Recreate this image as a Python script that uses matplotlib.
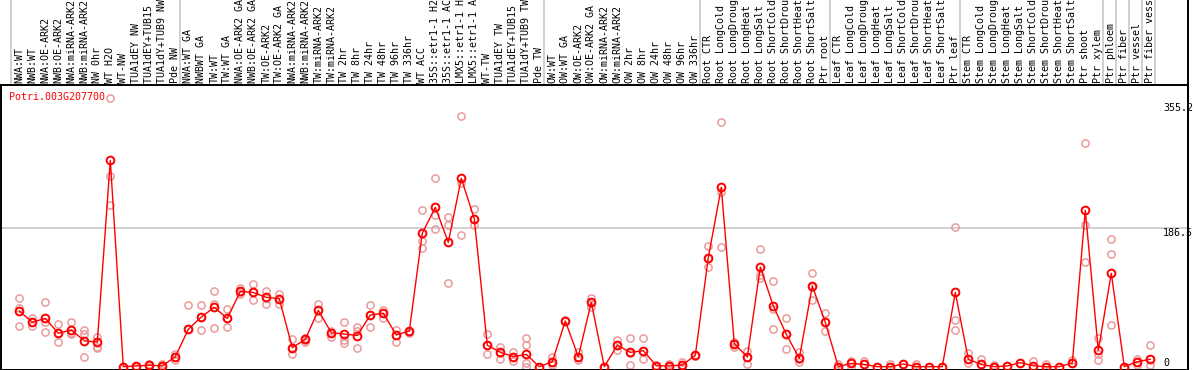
import matplotlib
matplotlib.use('Agg')
import matplotlib.pyplot as plt
from matplotlib import transforms
from matplotlib.lines import Line2D

# --- colours / fonts ---
c_red   = '#FF0000'
c_rep   = '#EA9A9A'
c_grid  = '#C4C4C4'
c_black = '#000000'
mono = 'DejaVu Sans Mono'
fs = 7.2

gene = 'Potri.003G207700'

samples = [
    'NWA:WT', 'NWB:WT', 'NWA:OE-ARK2', 'NWB:OE-ARK2', 'NWA:miRNA-ARK2', 'NWB:miRNA-ARK2',
    'NW 0hr', 'WT H2O', 'WT-NW', 'TUA1dEY NW', 'TUA1dEY+TUB15 NW', 'TUA1dY+TUB9 NW', 'Pde NW',
    'NWA:WT GA', 'NWBWT GA', 'TW:WT', 'TW:WT GA', 'NWA:OE-ARK2 GA', 'NWB:OE-ARK2 GA',
    'TW:OE-ARK2', 'TW:OE-ARK2 GA', 'NWA:miRNA-ARK2', 'NWB:miRNA-ARK2', 'TW:miRNA-ARK2',
    'TW:miRNA-ARK2', 'TW 2hr', 'TW 8hr', 'TW 24hr', 'TW 48hr', 'TW 96hr', 'TW 336hr',
    'WT ACC', '35S::etr1-1 H2O', '35S::etr1-1 ACC', 'LMX5::etr1-1 H2O', 'LMX5::etr1-1 ACC',
    'WT-TW', 'TUA1dEY TW', 'TUA1dEY+TUB15 TW', 'TUA1dY+TUB9 TW', 'Pde TW',
    'OW:WT', 'OW:WT GA', 'OW:OE-ARK2', 'OW:OE-ARK2 GA', 'OW:miRNA-ARK2', 'OW:miRNA-ARK2',
    'OW 2hr', 'OW 8hr', 'OW 24hr', 'OW 48hr', 'OW 96hr', 'OW 336hr',
    'Root CTR', 'Root LongCold', 'Root LongDrought', 'Root LongHeat', 'Root LongSalt',
    'Root ShortCold', 'Root ShortDrought', 'Root ShortHeat', 'Root ShortSalt', 'Ptr root',
    'Leaf CTR', 'Leaf LongCold', 'Leaf LongDrought', 'Leaf LongHeat', 'Leaf LongSalt',
    'Leaf ShortCold', 'Leaf ShortDrought', 'Leaf ShortHeat', 'Leaf ShortSalt', 'Ptr leaf',
    'Stem CTR', 'Stem LongCold', 'Stem LongDrought', 'Stem LongHeat', 'Stem LongSalt',
    'Stem ShortCold', 'Stem ShortDrought', 'Stem ShortHeat', 'Stem ShortSalt',
    'Ptr shoot', 'Ptr xylem', 'Ptr phloem', 'Ptr fiber', 'Ptr vessel', 'Ptr fiber vessel',
]

means = [
    75, 60, 65, 45, 49.4, 35, 33, 278, 0, 1, 2, 1, 13.5,
    50.3, 67, 80, 65, 101.5, 100, 93.4, 91.6, 25.6, 36.8, 76, 45.8, 44, 42, 69.6, 72, 42.7,
    48, 180, 214.7, 167.6, 253.8, 199, 29, 19.3, 13.5, 16.6, 0,
    6.7, 61.5, 13.5, 86.7, 0, 29, 19.3, 21.6, 1.3, 1, 2.2, 15.3,
    147, 241.7, 31, 13, 134.3, 81.8, 43.6, 11.2, 108.7, 59.7,
    0, 4.5, 3, 0, 0, 3.6, 0, 0, 0, 100,
    10, 3, 0, 1, 5.4, 1.3, 0, 0, 5, 210.7, 22,
    125.8, 0, 6.7, 10,
]

replicates = [
    [92, 79.5, 55], [65, 60, 55], [87, 60, 47], [57.5, 45, 33], [60, 46, 43.5],
    [49.4, 43.6, 13.5], [39.5, 27, 24.7], [361.6, 256.5, 218], [0, 0, 0], [1, 0, 0],
    [4, 2, 0], [4, 1, 0], [16.6, 13.5, 9],
    [83, 50.8], [83, 67, 50], [102, 85, 51.7], [77.7, 65, 53], [105.6, 101, 98],
    [111, 100, 90], [102, 93, 84], [97.5, 91, 84], [37.3, 25, 16.6], [38, 36, 33.7],
    [84.5, 76, 66], [48.5, 45, 39.5], [60.6, 36, 32], [53, 48, 24.7], [83, 70, 53],
    [76, 72, 65], [50, 43, 33.7], [48, 45, 47], [210.7, 170, 159.5], [253.8, 205, 185],
    [201.7, 191, 112.3], [337.4, 247, 177], [212, 199, 191], [44, 29, 17], [27, 19, 10],
    [20, 13.5, 8], [38, 28.7, 4.5, 0], [0, 0, 0],
    [13.5, 6, 2], [63, 61], [20, 13.5, 9], [93, 86, 81], [0, 0], [36, 29, 22.5],
    [38, 19, 2.2], [38, 21, 10], [2, 1, 0], [4, 1, 0], [6.7, 2, 0], [15, 15],
    [162.6, 147, 134.8], [329.3, 235, 160.8], [33.7, 31, 27], [21.6, 13, 4],
    [158.6, 123.5, 119], [115.5, 77.3, 50.3], [66, 43.6, 23.4], [20, 11, 5.8],
    [125.8, 108, 89.8], [71.9, 59.7, 48.5],
    [3, 0], [7, 4.5, 0], [8, 3], [0], [4, 0], [3.6], [4, 0], [0], [0], [187.8, 62.4, 49],
    [18.9, 10, 5], [10, 3], [2, 0], [1], [5.4], [7.6, 1.3], [4, 0], [0], [9, 5],
    [301, 191, 140.6], [38, 16.6, 9],
    [172, 151.4, 56], [0], [11, 6.7, 2], [29, 10, 2],
]

# first sample index of each group (gray separators drawn just before it)
group_starts = [0, 13, 41, 53, 63, 73, 84, 85, 86, 87, 88]
ytick_vals = [355.2, 186.5, 0]
ytick_text = ['355.2', '186.5', '0']

W, H = 1194, 370
fig = plt.figure(figsize=(W / 100, H / 100), dpi=100)
ax = fig.add_axes([1 / W, 0.5 / H, 1187 / W, 284.5 / H])
ax.set_xlim(-1.408, 89.9)
ax.set_ylim(-3.8, 379.6)
ax.set_xticks([])
ax.set_yticks([])
for sp in ax.spines.values():
    sp.set_color(c_black)
    sp.set_linewidth(1.4)

# grid line at the middle tick
ax.axhline(ytick_vals[1], color=c_grid, lw=1.1, zorder=1)

# separators run through the whole figure height (x in data, y in figure)
tr_xfig = transforms.blended_transform_factory(ax.transData, fig.transFigure)
for g in group_starts:
    fig.add_artist(Line2D([g - 0.65, g - 0.65], [0, 1], transform=tr_xfig,
                          color=c_grid, lw=1.1, zorder=0))
# right border continues up through the label zone
fig.add_artist(Line2D([1188 / W, 1188 / W], [0, 1], transform=fig.transFigure,
                      color=c_black, lw=1.4))

# replicates
rx, ry = [], []
for i, reps in enumerate(replicates):
    rx += [i] * len(reps)
    ry += reps
ax.plot(rx, ry, linestyle='none', marker='o', markersize=5.2, markerfacecolor='none',
        markeredgecolor=c_rep, markeredgewidth=1.1, zorder=2, clip_on=False)

# mean line
xs = list(range(len(means)))
ax.plot(xs, means, color=c_red, lw=1.0, marker='o', markersize=5.6, markerfacecolor='none',
        markeredgecolor=c_red, markeredgewidth=1.4, zorder=3, clip_on=False)

# sample labels above the frame (cut off by the top edge, as in the source)
for i, s in enumerate(samples):
    fig.text(i, (H - 83) / H, s, transform=tr_xfig, rotation=90, ha='center', va='bottom',
             family=mono, fontsize=fs, color=c_black)

# gene name
fig.text(9 / W, (H - 97) / H, gene, color=c_red, family=mono, fontsize=fs, va='center', ha='left')

# value labels on the right, inside the frame
for v, t in zip(ytick_vals, ytick_text):
    ypx = 366.7 - v * 0.742
    if v == 0:
        ypx = 358
    fig.text(1163 / W, (H - ypx) / H, t, family=mono, fontsize=fs, va='top', ha='left', color=c_black)

fig.savefig('out.png', dpi=100)
